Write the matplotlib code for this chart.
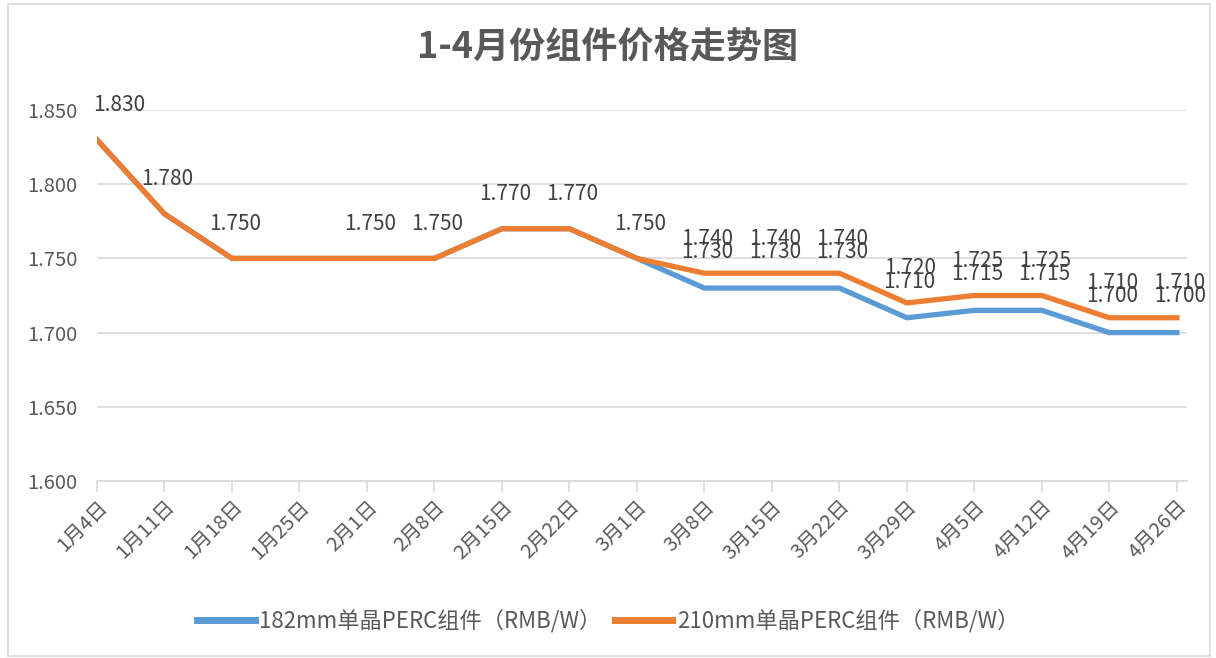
import matplotlib
matplotlib.use("Agg")
import matplotlib.pyplot as plt
from matplotlib.patches import Rectangle

plt.rcParams['font.family'] = ['Noto Sans CJK SC', 'DejaVu Sans']

dates = ["1月4日", "1月11日", "1月18日", "1月25日", "2月1日", "2月8日", "2月15日", "2月22日",
         "3月1日", "3月8日", "3月15日", "3月22日", "3月29日", "4月5日", "4月12日", "4月19日", "4月26日"]
s182 = [1.830, 1.780, 1.750, 1.750, 1.750, 1.750, 1.770, 1.770, 1.750,
        1.730, 1.730, 1.730, 1.710, 1.715, 1.715, 1.700, 1.700]
s210 = [1.830, 1.780, 1.750, 1.750, 1.750, 1.750, 1.770, 1.770, 1.750,
        1.740, 1.740, 1.740, 1.720, 1.725, 1.725, 1.710, 1.710]
name182 = "182mm单晶PERC组件（RMB/W）"
name210 = "210mm单晶PERC组件（RMB/W）"
labels210 = [0, 1, 2, 4, 5, 6, 7, 8, 9, 10, 11, 12, 13, 14, 15, 16]
labels182 = [9, 10, 11, 12, 13, 14, 15, 16]
yticks = [1.600, 1.650, 1.700, 1.750, 1.800, 1.850]
title = "1-4月份组件价格走势图"

W, H = 1216, 658
fig = plt.figure(figsize=(W / 100, H / 100), dpi=100)
ax = fig.add_axes([97 / W, 1 - 481 / H, 1090 / W, (481 - 110) / H])

x = list(range(len(dates)))
c_blue = "#5B9BD5"
c_orange = "#ED7D31"
ax.plot(x, s182, color=c_blue, lw=3.8, label=name182, solid_joinstyle='miter', zorder=3)
ax.plot(x, s210, color=c_orange, lw=3.8, label=name210, solid_joinstyle='miter', zorder=4)

txtc = "#404040"
for i in labels210:
    dx = 16 if i == 0 else 2
    ax.annotate(f"{s210[i]:.3f}", (x[i], s210[i]), xytext=(dx, 25), textcoords='offset points',
                ha='center', va='center', fontsize=15, color=txtc, zorder=5,
                annotation_clip=False)
for i in labels182:
    ax.annotate(f"{s182[i]:.3f}", (x[i], s182[i]), xytext=(2, 26), textcoords='offset points',
                ha='center', va='center', fontsize=15, color=txtc, zorder=6,
                annotation_clip=False)

ax.set_xlim(0, 16.15)
ax.set_ylim(1.6, 1.85)
ax.set_yticks(yticks)
ax.set_yticklabels([f"{v:.3f}" for v in yticks], fontsize=14.5, color="#595959")
ax.set_xticks(x)
ax.set_xticklabels(dates, rotation=45, ha='right', va='top', rotation_mode='anchor',
                   fontsize=14.5, color="#595959")
ax.tick_params(axis='y', length=0, pad=14)
ax.tick_params(axis='x', length=8, color="#D9D9D9", width=1.2, pad=3)
ax.grid(axis='y', color="#D9D9D9", lw=1.2)
ax.set_axisbelow(True)
for s in ['top', 'right', 'left']:
    ax.spines[s].set_visible(False)
ax.spines['bottom'].set_color("#D9D9D9")
ax.spines['bottom'].set_linewidth(1.2)

fig.text(0.5, 1 - 48 / H, title, ha='center', va='center', fontsize=26, fontweight='bold',
         color="#595959")

leg = fig.legend(loc='center', bbox_to_anchor=(0.5, 1 - 621 / H), ncol=2, frameon=False,
                 fontsize=16, handlelength=2.6, columnspacing=0.6, handletextpad=0.2)
for t in leg.get_texts():
    t.set_color("#595959")
for l in leg.get_lines():
    l.set_linewidth(5)

fig.patches.append(Rectangle((8 / W, 2 / H), (W - 14) / W, (H - 6) / H, transform=fig.transFigure,
                             fill=False, edgecolor="#D9D9D9", lw=1.2))

fig.savefig("out.png", dpi=100)
